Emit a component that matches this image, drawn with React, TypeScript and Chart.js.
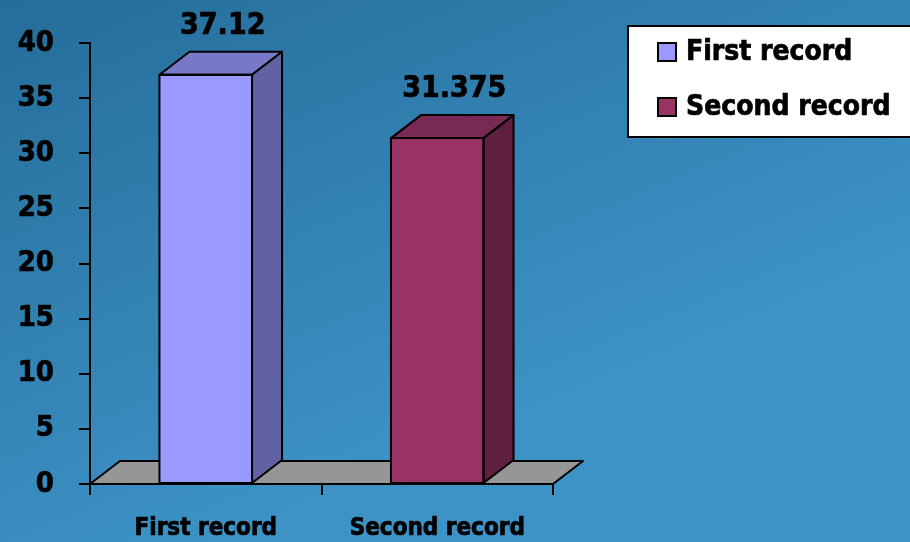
import React, { useEffect, useRef } from "react";
import { Chart, registerables } from "chart.js";

Chart.register(...registerables);

// ---- data ----
const categories = ["First record", "Second record"];
const seriesNames = ["First record", "Second record"];
const firstRecordValues = [37.12, null];
const secondRecordValues = [null, 31.375];
const yMin = 0;
const yMax = 40;
const yStep = 5;

// ---- styles ----
const FONT = "'DejaVu Sans Condensed', 'DejaVu Sans', Verdana, sans-serif";
const frontColors = ["#9999ff", "#993366"];
const topColors = ["#7878c8", "#782a55"];
const sideColors = ["#6262a2", "#612040"];
const DX = 30;
const DY = -23;
const LW = 2;
const TEXT_STROKE = 0.7;

function heavyText(ctx: any, text: string, x: number, y: number) {
  ctx.lineWidth = TEXT_STROKE;
  ctx.strokeStyle = "#000";
  ctx.fillText(text, x, y);
  ctx.strokeText(text, x, y);
}

const bgPlugin = {
  id: "bg",
  beforeDraw(chart: any) {
    const { ctx, width, height } = chart;
    ctx.save();
    const g = ctx.createLinearGradient(0, 0, width * 0.25, height);
    g.addColorStop(0, "#256d9a");
    g.addColorStop(1, "#3d93c6");
    ctx.fillStyle = g;
    ctx.fillRect(0, 0, width, height);
    ctx.restore();
  },
};

const floorPlugin = {
  id: "floor3d",
  beforeDatasetsDraw(chart: any) {
    const { ctx, chartArea } = chart;
    const y0 = chart.scales.y.getPixelForValue(0);
    const l = chartArea.left;
    const r = chartArea.right;
    ctx.save();
    ctx.beginPath();
    ctx.moveTo(l, y0);
    ctx.lineTo(r, y0);
    ctx.lineTo(r + DX, y0 + DY);
    ctx.lineTo(l + DX, y0 + DY);
    ctx.closePath();
    ctx.fillStyle = "#969696";
    ctx.fill();
    ctx.lineWidth = LW;
    ctx.lineJoin = "round";
    ctx.strokeStyle = "#000";
    ctx.stroke();
    ctx.restore();
  },
};

const bars3dPlugin = {
  id: "bars3d",
  afterDatasetsDraw(chart: any) {
    const { ctx } = chart;
    ctx.save();
    ctx.lineJoin = "round";
    chart.data.datasets.forEach((ds: any, i: number) => {
      const meta = chart.getDatasetMeta(i);
      meta.data.forEach((el: any, j: number) => {
        const v = ds.data[j];
        if (v == null) return;
        const { x, y, base, width } = el.getProps(["x", "y", "base", "width"], true);
        const l = x - width / 2;
        const r = x + width / 2;
        ctx.lineWidth = LW;
        ctx.strokeStyle = "#000";
        // top face
        ctx.beginPath();
        ctx.moveTo(l, y);
        ctx.lineTo(r, y);
        ctx.lineTo(r + DX, y + DY);
        ctx.lineTo(l + DX, y + DY);
        ctx.closePath();
        ctx.fillStyle = topColors[i];
        ctx.fill();
        ctx.stroke();
        // side face
        ctx.beginPath();
        ctx.moveTo(r, y);
        ctx.lineTo(r + DX, y + DY);
        ctx.lineTo(r + DX, base + DY);
        ctx.lineTo(r, base);
        ctx.closePath();
        ctx.fillStyle = sideColors[i];
        ctx.fill();
        ctx.stroke();
        // front outline
        ctx.strokeRect(l, y, width, base - y);
        // value label
        ctx.fillStyle = "#000";
        ctx.font = `bold 30px ${FONT}`;
        ctx.textAlign = "center";
        ctx.textBaseline = "alphabetic";
        heavyText(ctx, String(v), x + DX / 2 + 2, y + DY - 18);
      });
    });
    ctx.restore();
  },
};

const legendPlugin = {
  id: "legendBox",
  afterDraw(chart: any) {
    const { ctx } = chart;
    ctx.save();
    const bx = 628;
    const by = 26;
    const bw = 300;
    const bh = 111;
    ctx.fillStyle = "#ffffff";
    ctx.fillRect(bx, by, bw, bh);
    ctx.lineWidth = LW;
    ctx.strokeStyle = "#000";
    ctx.strokeRect(bx, by, bw, bh);
    chart.data.datasets.forEach((ds: any, i: number) => {
      const cy = 52 + i * 55;
      ctx.fillStyle = frontColors[i];
      ctx.fillRect(658, cy - 9, 18, 18);
      ctx.lineWidth = 2;
      ctx.strokeStyle = "#000";
      ctx.strokeRect(658, cy - 9, 18, 18);
      ctx.fillStyle = "#000";
      ctx.font = `bold 28px ${FONT}`;
      ctx.textAlign = "left";
      ctx.textBaseline = "middle";
      heavyText(ctx, ds.label, 686, cy + 1);
    });
    ctx.restore();
  },
};

export default function App() {
  const ref = useRef<HTMLCanvasElement | null>(null);

  useEffect(() => {
    if (!ref.current) return;
    const chart = new Chart(ref.current, {
      type: "bar",
      data: {
        labels: categories,
        datasets: [
          {
            label: seriesNames[0],
            data: firstRecordValues,
            backgroundColor: frontColors[0],
            borderWidth: 0,
            skipNull: true,
          } as any,
          {
            label: seriesNames[1],
            data: secondRecordValues,
            backgroundColor: frontColors[1],
            borderWidth: 0,
            skipNull: true,
          } as any,
        ],
      },
      options: {
        responsive: false,
        animation: false,
        maintainAspectRatio: false,
        layout: { padding: { left: 0, top: 43, right: 357, bottom: 0 } },
        datasets: { bar: { categoryPercentage: 1, barPercentage: 0.4 } },
        plugins: {
          legend: { display: false },
          tooltip: { enabled: false },
        },
        scales: {
          x: {
            afterFit: (s: any) => {
              s.height = 58;
            },
            border: { display: true, color: "#000", width: LW },
            grid: {
              offset: true,
              drawOnChartArea: false,
              drawTicks: true,
              tickLength: 11,
              color: "#000",
              lineWidth: LW,
            },
            ticks: {
              color: "#000",
              padding: 19,
              textStrokeColor: "#000",
              textStrokeWidth: TEXT_STROKE,
              font: { family: FONT, size: 24, weight: "bold" },
            },
          },
          y: {
            min: yMin,
            max: yMax,
            afterFit: (s: any) => {
              s.width = 90;
            },
            border: { display: true, color: "#000", width: LW },
            grid: {
              drawOnChartArea: false,
              drawTicks: true,
              tickLength: 11,
              color: "#000",
              lineWidth: LW,
            },
            ticks: {
              stepSize: yStep,
              color: "#000",
              padding: 25,
              textStrokeColor: "#000",
              textStrokeWidth: TEXT_STROKE,
              font: { family: FONT, size: 29, weight: "bold" },
            },
          },
        },
      },
      plugins: [bgPlugin, floorPlugin, bars3dPlugin, legendPlugin],
    });
    return () => chart.destroy();
  }, []);

  return (
    <div style={{ position: "fixed", left: 0, top: 0, width: 910, height: 542 }}>
      <canvas ref={ref} width={910} height={542} style={{ display: "block" }} />
    </div>
  );
}
